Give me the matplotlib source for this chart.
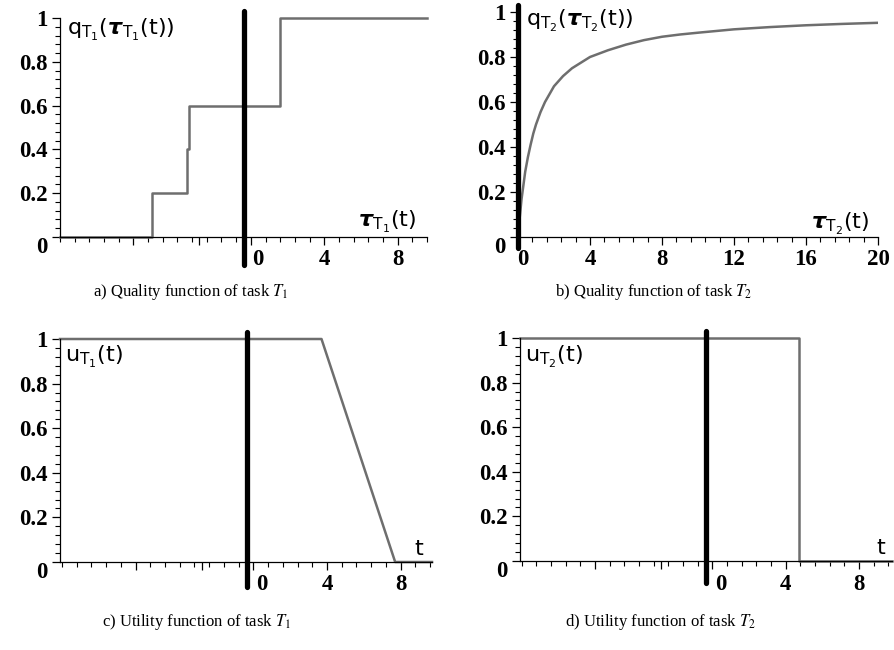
import numpy as np
import matplotlib
matplotlib.use("Agg")
import matplotlib.pyplot as plt
import matplotlib.transforms as mtransforms
from matplotlib.ticker import MultipleLocator

plt.rcParams['mathtext.fontset'] = 'custom'
plt.rcParams['mathtext.rm'] = 'DejaVu Sans'
plt.rcParams['mathtext.it'] = 'DejaVu Sans:italic'
plt.rcParams['mathtext.bf'] = 'DejaVu Sans:italic:bold'

# ---- data ----
# a) quality of task T1 (step function, post)
qa_x = [-10.4, -5.4, -3.48, -3.37, 1.6, 9.6]
qa_y = [0.0, 0.2, 0.4, 0.6, 1.0, 1.0]
# b) quality of task T2
qb_x = [0.05, 0.1, 0.2, 0.3, 0.4, 0.55, 0.7, 0.85, 1.0, 1.25, 1.5, 2.0, 2.5, 3.0, 4.0,
        5.0, 6.0, 7.0, 8.0, 9.0, 10.0, 12.0, 14.0, 16.0, 18.0, 20.0]
qb_y = [0.05, 0.09, 0.17, 0.23, 0.29, 0.355, 0.41, 0.46, 0.5, 0.555, 0.6, 0.67, 0.715, 0.75, 0.8,
        0.83, 0.855, 0.875, 0.89, 0.9, 0.908, 0.923, 0.933, 0.941, 0.947, 0.952]
# c) utility of task T1
uc_x = [-10.5, 3.7, 7.7, 9.7]
uc_y = [1.0, 1.0, 0.0, 0.0]
# d) utility of task T2
ud_x = [-10.5, 4.75, 4.75, 9.8]
ud_y = [1.0, 1.0, 0.0, 0.0]

now_t = -0.35
ytick_vals = [0, 0.2, 0.4, 0.6, 0.8, 1.0]
ytick_labels = ['0', '0.2', '0.4', '0.6', '0.8', '1']

captions = [r"a) Quality function of task $T_1$", r"b) Quality function of task $T_2$",
            r"c) Utility function of task $T_1$", r"d) Utility function of task $T_2$"]

CURVE = '#6e6e6e'
W, H = 894, 650
fig = plt.figure(figsize=(W / 100, H / 100), dpi=100)


def add_ax(l, r, top, bottom):
    return fig.add_axes([l / W, 1 - bottom / H, (r - l) / W, (bottom - top) / H])


tickfont = dict(family='Liberation Serif', weight='bold', size=16.5)


def style(ax, xlim, xmajor, xlabeled, zero_shift):
    ax.set_xlim(*xlim)
    ax.set_ylim(0, 1)
    for s in ('top', 'right'):
        ax.spines[s].set_visible(False)
    for s in ('left', 'bottom'):
        ax.spines[s].set_linewidth(0.9)
    ax.set_yticks(ytick_vals)
    ax.set_yticklabels(ytick_labels, fontdict=tickfont)
    ax.yaxis.set_minor_locator(MultipleLocator(0.04))
    ax.set_xticks(xmajor)
    ax.set_xticklabels([str(v) if v in xlabeled else '' for v in xmajor], fontdict=tickfont)
    ax.xaxis.set_minor_locator(MultipleLocator(0.8))
    ax.tick_params(which='major', direction='out', length=6, width=0.9, pad=3)
    ax.tick_params(which='minor', direction='out', length=3.5, width=0.8)
    for lab in ax.get_yticklabels():
        if lab.get_text() == '0':
            lab.set_va('top')
    off = mtransforms.ScaledTranslation(zero_shift / 100, 0, fig.dpi_scale_trans)
    for lab in ax.get_xticklabels():
        if lab.get_text() == '0':
            lab.set_transform(lab.get_transform() + off)


def ann(ax, x, y, s, ha='left', size=16):
    ax.text(x, y, s, transform=ax.transAxes, ha=ha, va='center', fontsize=size,
            math_fontfamily='custom')


# a)
axa = add_ax(60, 427, 18, 237)
style(axa, (-10.4, 9.6), [-6.4, -2.8, 0, 4, 8], [0, 4, 8], 7)
axa.step(qa_x, qa_y, where='post', color=CURVE, lw=1.8, clip_on=False)
axa.plot([now_t, now_t], [-0.13, 1.03], color='black', lw=3.8, clip_on=False,
         solid_capstyle='round')
ann(axa, 0.02, 0.945, r"$\mathrm{q}_{\mathrm{T}_1}(\mathbf{\tau}_{\mathrm{T}_1}(\mathrm{t}))$")
ann(axa, 0.97, 0.07, r"$\mathbf{\tau}_{\mathrm{T}_1}(\mathrm{t})$", ha='right')

# b)
axb = add_ax(518, 878, 12, 237)
style(axb, (0, 20), [0, 4, 8, 12, 16, 20], [0, 4, 8, 12, 16, 20], 5)
axb.plot(qb_x, qb_y, color=CURVE, lw=1.8)
axb.plot([0, 0], [-0.05, 1.03], color='black', lw=3.8, clip_on=False,
         solid_capstyle='round')
ann(axb, 0.022, 0.96, r"$\mathrm{q}_{\mathrm{T}_2}(\mathbf{\tau}_{\mathrm{T}_2}(\mathrm{t}))$")
ann(axb, 0.975, 0.06, r"$\mathbf{\tau}_{\mathrm{T}_2}(\mathrm{t})$", ha='right')

# c)
axc = add_ax(60, 432, 339, 562)
style(axc, (-10.5, 9.7), [-6.4, -2.8, 0, 4, 8], [0, 4, 8], 8)
axc.plot(uc_x, uc_y, color=CURVE, lw=1.8, clip_on=False)
axc.plot([now_t, now_t], [-0.11, 1.03], color='black', lw=3.8, clip_on=False,
         solid_capstyle='round')
ann(axc, 0.013, 0.92, r"$\mathrm{u}_{\mathrm{T}_1}(\mathrm{t})$")
ann(axc, 0.98, 0.06, r"$\mathrm{t}$", ha='right')

# d)
axd = add_ax(520, 892, 338, 561)
style(axd, (-10.5, 9.8), [-6.4, -2.8, 0, 4, 8], [0, 4, 8], 8)
axd.plot(ud_x, ud_y, color=CURVE, lw=1.8, clip_on=False)
axd.plot([now_t, now_t], [-0.1, 1.03], color='black', lw=3.8, clip_on=False,
         solid_capstyle='round')
ann(axd, 0.013, 0.915, r"$\mathrm{u}_{\mathrm{T}_2}(\mathrm{t})$")
ann(axd, 0.985, 0.06, r"$\mathrm{t}$", ha='right')

# captions
cap_pos = [(191, 292), (654, 292), (197, 622), (660, 622)]
for (cx, cy), cap in zip(cap_pos, captions):
    fig.text(cx / W, 1 - cy / H, cap, ha='center', va='center', family='Liberation Serif',
             size=12, math_fontfamily='stix')

fig.savefig('out.png', dpi=100)
